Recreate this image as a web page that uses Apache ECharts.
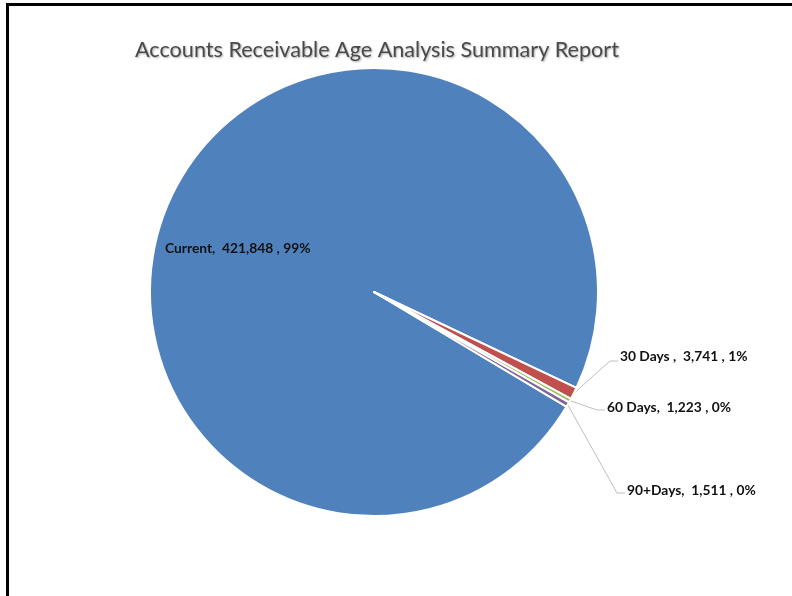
<!DOCTYPE html>
<html>
<head>
<meta charset="utf-8">
<script src="https://cdn.jsdelivr.net/npm/echarts@6/dist/echarts.min.js"></script>
<style>
html,body{margin:0;padding:0;background:#fff;}
#chart{width:792px;height:596px;}
</style>
</head>
<body>
<div id="chart"></div>
<script>
// ---- Data ----
var titleText = 'Accounts Receivable Age Analysis Summary Report';
var categories = ['Current', '30 Days ', '60 Days', '90+Days'];
var values = [421848, 3741, 1223, 1511];
var colors = ['#4F81BD', '#C0504D', '#9BBB59', '#8064A2'];

// ---- Layout (label anchors: left x, text middle y, leader line y) ----
var labelAnchors = [
  { x: 165, y: 249, lineY: null },
  { x: 620, y: 357, lineY: 361 },
  { x: 607, y: 408, lineY: 410 },
  { x: 627, y: 491, lineY: 493 }
];

function fmt(n) {
  return String(n).replace(/\B(?=(\d{3})+(?!\d))/g, ',');
}

var dataItems = categories.map(function (c, i) {
  return {
    name: c,
    value: values[i],
    itemStyle: { color: colors[i] },
    label: { position: i === 0 ? 'inside' : 'outside' },
    labelLine: { show: i !== 0 }
  };
});

var chart = echarts.init(document.getElementById('chart'), null, { renderer: 'canvas' });
chart.setOption({
  animation: false,
  backgroundColor: '#ffffff',
  title: {
    text: titleText,
    left: 377,
    top: 34,
    textAlign: 'center',
    textStyle: {
      fontFamily: 'Lato',
      fontSize: 21.6,
      fontWeight: 'normal',
      color: '#4a4a4a',
      textShadowColor: 'rgba(0,0,0,0.35)',
      textShadowBlur: 2,
      textShadowOffsetX: 1,
      textShadowOffsetY: 1
    }
  },
  graphic: [{
    type: 'rect',
    shape: { x: 7.5, y: 4.5, width: 900, height: 700 },
    style: { fill: 'none', stroke: '#000', lineWidth: 3 },
    silent: true,
    z: 100
  }],
  series: [{
    type: 'pie',
    center: [374, 292],
    radius: [0, 224],
    startAngle: -30.8,
    clockwise: true,
    avoidLabelOverlap: false,
    percentPrecision: 0,
    itemStyle: { borderColor: '#ffffff', borderWidth: 2 },
    label: {
      show: true,
      fontFamily: 'Lato',
      fontSize: 13.8,
      fontWeight: 'bold',
      color: '#111111',
      formatter: function (p) {
        return p.name + ',  ' + fmt(p.value) + ' , ' + p.percent + '%';
      }
    },
    labelLine: {
      show: true,
      length: 10,
      length2: 10,
      lineStyle: { color: '#BFBFBF', width: 1 }
    },
    labelLayout: function (p) {
      var a = labelAnchors[p.dataIndex];
      var res = { x: a.x, y: a.y, align: 'left', verticalAlign: 'middle' };
      if (a.lineY != null && p.labelLinePoints) {
        var s = p.labelLinePoints[0];
        res.labelLinePoints = [[s[0], s[1]], [a.x - 10, a.lineY], [a.x - 2, a.lineY]];
      }
      return res;
    },
    data: dataItems
  }]
});
chart.setOption({ title: { left: 372 } });
</script>
</body>
</html>
